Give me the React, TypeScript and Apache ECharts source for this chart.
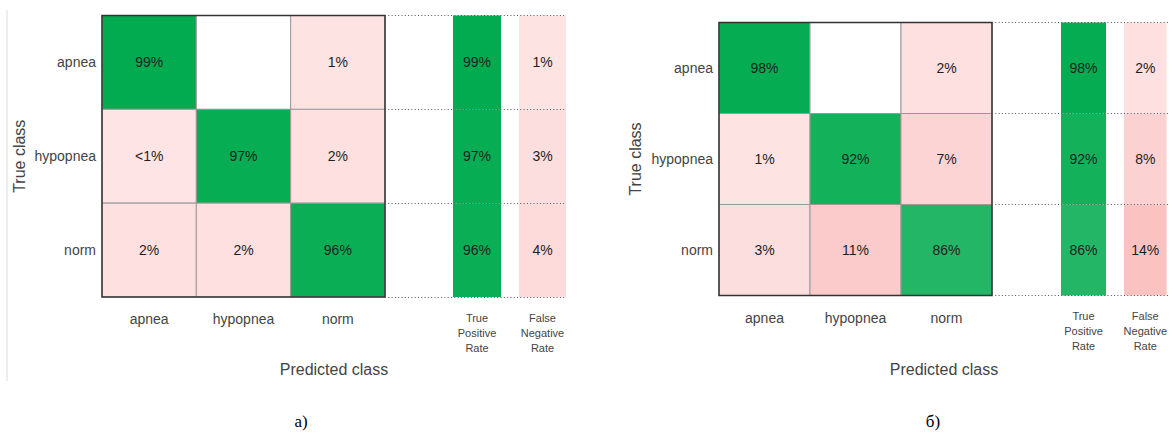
import React, { useEffect, useRef } from 'react';
import * as echarts from 'echarts';

// Class names (rows = true class, columns = predicted class)
const classes = ['apnea', 'hypopnea', 'norm'];
const rateLabels = ['True\nPositive\nRate', 'False\nNegative\nRate'];

// Panel a) – row-normalised confusion matrix, percent
const matrixA = [
  [99, 0, 1],
  [0.5, 97, 2],
  [2, 2, 96],
];
const tprA = [99, 97, 96];
const fnrA = [1, 3, 4];

// Panel б) – row-normalised confusion matrix, percent
const matrixB = [
  [98, 0, 2],
  [1, 92, 7],
  [3, 11, 86],
];
const tprB = [98, 92, 86];
const fnrB = [2, 8, 14];

const SANS = "'Liberation Sans', Arial, Helvetica, sans-serif";
const SERIF = "'Liberation Serif', 'Times New Roman', serif";

const rgb = (r: number, g: number, b: number) =>
  `rgb(${Math.round(r)},${Math.round(g)},${Math.round(b)})`;

// correct predictions: white -> green
const goodColor = (v: number) => {
  const t = Math.min(1, v / 99);
  return rgb(255 + (2 - 255) * t, 255 + (171 - 255) * t, 255 + (79 - 255) * t);
};
// errors: pale pink -> salmon; empty cells stay white
const badColor = (v: number) => {
  if (v <= 0) return '#ffffff';
  return rgb(254 - 0.25 * v, 229 - 2.5 * v, 229 - 2.5 * v);
};

const fmt = (v: number) => (v <= 0 ? '' : v < 1 ? '<1%' : `${Math.round(v)}%`);

type Layout = {
  matLeft: number;
  matTop: number;
  matW: number;
  matH: number;
  tpr: [number, number];
  fnr: [number, number];
  rightEnd: number;
  yNameGap: number;
  xLabelMargin: number;
  center: number;
  caption: string;
  captionX: number;
};

const layoutA: Layout = {
  matLeft: 102,
  matTop: 15.5,
  matW: 283,
  matH: 281.5,
  tpr: [453, 48],
  fnr: [519, 47],
  rightEnd: 565,
  yNameGap: 75,
  xLabelMargin: 15,
  center: 334,
  caption: 'a)',
  captionX: 301,
};

const layoutB: Layout = {
  matLeft: 719,
  matTop: 22.5,
  matW: 273,
  matH: 273,
  tpr: [1061, 45],
  fnr: [1124, 45],
  rightEnd: 1170,
  yNameGap: 76,
  xLabelMargin: 15,
  center: 944,
  caption: 'б)',
  captionX: 933,
};

// One coloured cell with its percentage, placed through the axes' scales
const cellRenderer =
  (colorOf: (col: number, row: number, v: number) => string, stroke: string | null) =>
  (_params: any, api: any) => {
    const col = api.value(0);
    const row = api.value(1);
    const v = api.value(2);
    const [cx, cy] = api.coord([col, row]);
    const [w, h] = api.size([1, 1]);
    return {
      type: 'group',
      children: [
        {
          type: 'rect',
          shape: { x: cx - w / 2, y: cy - h / 2, width: w, height: h },
          style: {
            fill: colorOf(col, row, v),
            stroke: stroke || 'none',
            lineWidth: stroke ? 1 : 0,
          },
        },
        {
          type: 'text',
          x: cx,
          y: cy,
          style: {
            text: fmt(v),
            fill: '#1e1e1e',
            fontSize: 14,
            fontFamily: SANS,
            align: 'center',
            verticalAlign: 'middle',
          },
        },
      ],
    };
  };

function buildPanel(
  matrix: number[][],
  tpr: number[],
  fnr: number[],
  L: Layout,
  base: number
) {
  const grids: any[] = [];
  const xAxes: any[] = [];
  const yAxes: any[] = [];
  const series: any[] = [];

  const hiddenCat = (gi: number, data: string[], extra: any = {}) => ({
    type: 'category',
    gridIndex: gi,
    data,
    axisLine: { show: false },
    axisTick: { show: false },
    splitLine: { show: false },
    ...extra,
  });

  // confusion matrix
  const gm = base;
  grids.push({
    left: L.matLeft,
    top: L.matTop,
    width: L.matW,
    height: L.matH,
    show: true,
    borderColor: '#333',
    borderWidth: 1.5,
    backgroundColor: 'transparent',
    z: 10,
  });
  xAxes.push(
    hiddenCat(gm, classes, {
      position: 'bottom',
      axisLabel: { color: '#444', fontSize: 14, fontFamily: SANS, margin: L.xLabelMargin },
    })
  );
  yAxes.push(
    hiddenCat(gm, classes, {
      inverse: true,
      axisLabel: { color: '#444', fontSize: 14, fontFamily: SANS, margin: 6 },
      name: 'True class',
      nameLocation: 'middle',
      nameGap: L.yNameGap,
      nameTextStyle: { color: '#444', fontSize: 16, fontFamily: SANS },
    })
  );
  series.push({
    type: 'custom',
    xAxisIndex: gm,
    yAxisIndex: gm,
    renderItem: cellRenderer(
      (c, r, v) => (r === c ? goodColor(v) : badColor(v)),
      '#9a9a9a'
    ),
    data: matrix.flatMap((row, r) => row.map((v, c) => [c, r, v])),
    silent: true,
  });

  // per-class rate columns
  const cols: [number[], [number, number], string, (v: number) => string][] = [
    [tpr, L.tpr, rateLabels[0], goodColor],
    [fnr, L.fnr, rateLabels[1], badColor],
  ];
  cols.forEach(([vals, pos, name, colorFn], k) => {
    const gi = base + 1 + k;
    grids.push({ left: pos[0], top: L.matTop, width: pos[1], height: L.matH });
    xAxes.push(
      hiddenCat(gi, [name], {
        position: 'bottom',
        axisLabel: {
          color: '#444',
          fontSize: 11,
          lineHeight: 15,
          fontFamily: SANS,
          margin: 13,
          verticalAlign: 'top',
        },
      })
    );
    yAxes.push(hiddenCat(gi, classes, { inverse: true, axisLabel: { show: false } }));
    series.push({
      type: 'custom',
      xAxisIndex: gi,
      yAxisIndex: gi,
      renderItem: cellRenderer((_c, _r, v) => colorFn(v), null),
      data: vals.map((v, r) => [0, r, v]),
      silent: true,
    });
  });

  // dotted row separators running from the matrix to the rate columns
  const go = base + 3;
  grids.push({
    left: L.matLeft + L.matW,
    top: L.matTop,
    width: L.rightEnd - (L.matLeft + L.matW),
    height: L.matH,
  });
  xAxes.push({ type: 'value', gridIndex: go, show: false, min: 0, max: 1 });
  yAxes.push({
    type: 'value',
    gridIndex: go,
    min: 0,
    max: 3,
    interval: 1,
    inverse: true,
    z: 10,
    axisLine: { show: false },
    axisTick: { show: false },
    axisLabel: { show: false },
    splitLine: { show: true, lineStyle: { color: '#555', width: 1, type: [1, 2.3] } },
  });

  const graphics = [
    {
      type: 'text',
      x: L.center,
      y: 369,
      style: {
        text: 'Predicted class',
        fill: '#444',
        fontSize: 16,
        fontFamily: SANS,
        align: 'center',
        verticalAlign: 'middle',
      },
    },
    {
      type: 'text',
      x: L.captionX,
      y: 421,
      style: {
        text: L.caption,
        fill: '#000',
        fontSize: 17,
        fontFamily: SERIF,
        align: 'center',
        verticalAlign: 'middle',
      },
    },
  ];

  return { grids, xAxes, yAxes, series, graphics };
}

export default function App() {
  const ref = useRef<HTMLDivElement>(null);

  useEffect(() => {
    if (!ref.current) return;
    const chart = echarts.init(ref.current, undefined, { renderer: 'svg' });
    const a = buildPanel(matrixA, tprA, fnrA, layoutA, 0);
    const b = buildPanel(matrixB, tprB, fnrB, layoutB, 4);

    chart.setOption({
      animation: false,
      backgroundColor: '#ffffff',
      grid: [...a.grids, ...b.grids],
      xAxis: [...a.xAxes, ...b.xAxes],
      yAxis: [...a.yAxes, ...b.yAxes],
      series: [...a.series, ...b.series],
      graphic: [
        {
          type: 'line',
          shape: { x1: 7, y1: 10, x2: 7, y2: 381 },
          style: { stroke: '#dcdcdc', lineWidth: 1 },
        },
        ...a.graphics,
        ...b.graphics,
      ],
    });

    return () => chart.dispose();
  }, []);

  return (
    <div
      ref={ref}
      style={{ position: 'fixed', left: 0, top: 0, width: 1170, height: 432 }}
    />
  );
}
